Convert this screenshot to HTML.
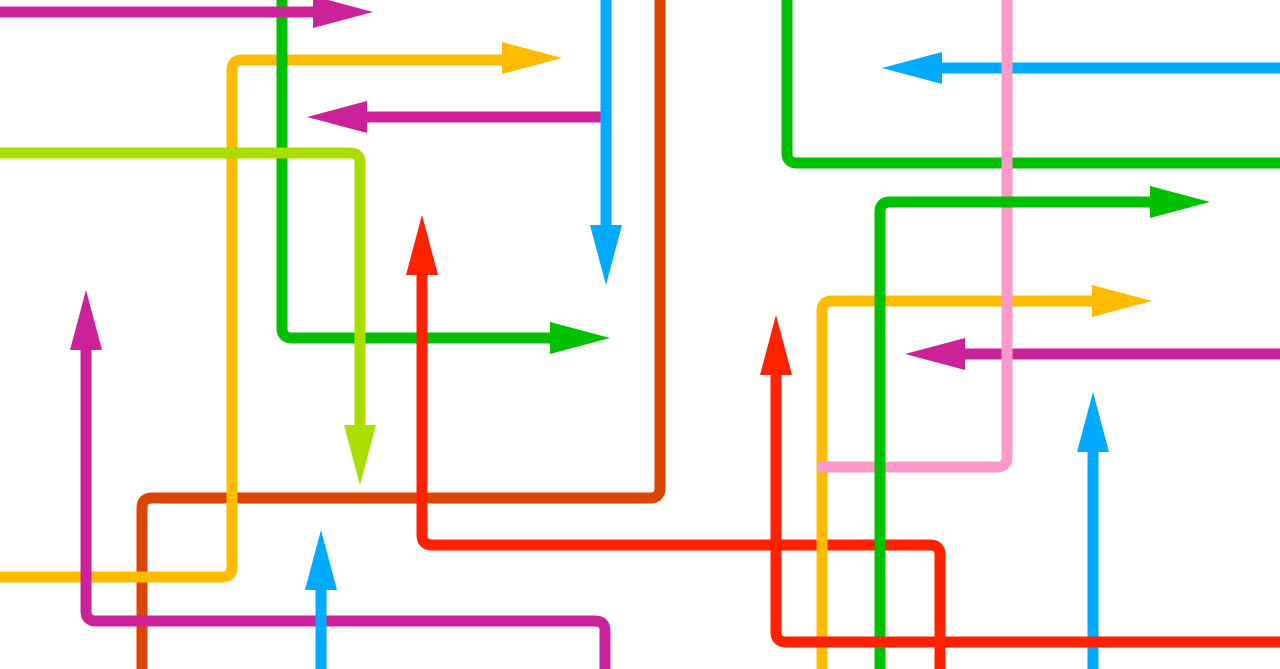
<!DOCTYPE html>
<html><head><meta charset="utf-8"><style>html,body{margin:0;padding:0;background:#fff}svg{display:block}</style></head>
<body>
<svg width="1280" height="669" viewBox="0 0 1280 669" xmlns="http://www.w3.org/2000/svg">
<g fill="none" stroke-width="11" stroke-linejoin="round" stroke-linecap="butt">
<path d="M660 0 V488 Q660 498 650 498 H152 Q142 498 142 508 V669" stroke="#DD4400"/>
<path d="M0 577 H222 Q232 577 232 567 V70 Q232 60 242 60 H520" stroke="#FFBB00"/>
<path d="M282 0 V328 Q282 338 292 338 H570" stroke="#00C000"/>
<path d="M0 153 H350 Q360 153 360 163 V445" stroke="#AADD00"/>
<path d="M0 12 H335" stroke="#CC2299"/>
<path d="M603 117 H345" stroke="#CC2299"/>
<path d="M86 330 V611 Q86 621 96 621 H595 Q605 621 605 631 V669" stroke="#CC2299"/>
<path d="M1280 354 H945" stroke="#CC2299"/>
<path d="M606 0 V245" stroke="#00AAFF"/>
<path d="M321 570 V669" stroke="#00AAFF"/>
<path d="M1280 68 H920" stroke="#00AAFF"/>
<path d="M1093 432 V669" stroke="#00AAFF"/>
<path d="M422 255 V535 Q422 545 432 545 H930 Q940 545 940 555 V669" stroke="#FF2200"/>
<path d="M787 0 V153 Q787 163 797 163 H1280" stroke="#00C000"/>
<path d="M822 669 V311 Q822 301 832 301 H1110" stroke="#FFBB00"/>
<path d="M1007 0 V457 Q1007 467 997 467 H818" stroke="#FF99CC"/>
<path d="M880 669 V212 Q880 202 890 202 H1170" stroke="#00C000"/>
<path d="M776 355 V632 Q776 642 786 642 H1280" stroke="#FF2200"/>
</g>
<g>
<polygon points="373,12 313,-4 313,28" fill="#CC2299"/>
<polygon points="562,58 502,42 502,74" fill="#FFBB00"/>
<polygon points="610,338 550,322 550,354" fill="#00C000"/>
<polygon points="1210,202 1150,186 1150,218" fill="#00C000"/>
<polygon points="1152,301 1092,285 1092,317" fill="#FFBB00"/>
<polygon points="307,117 367,101 367,133" fill="#CC2299"/>
<polygon points="882,68 942,52 942,84" fill="#00AAFF"/>
<polygon points="905,354 965,338 965,370" fill="#CC2299"/>
<polygon points="606,285 590,225 622,225" fill="#00AAFF"/>
<polygon points="360,485 344,425 376,425" fill="#AADD00"/>
<polygon points="422,215 406,275 438,275" fill="#FF2200"/>
<polygon points="86,290 70,350 102,350" fill="#CC2299"/>
<polygon points="321,530 305,590 337,590" fill="#00AAFF"/>
<polygon points="1093,392 1077,452 1109,452" fill="#00AAFF"/>
<polygon points="776,315 760,375 792,375" fill="#FF2200"/>
</g>
</svg>
</body></html>
